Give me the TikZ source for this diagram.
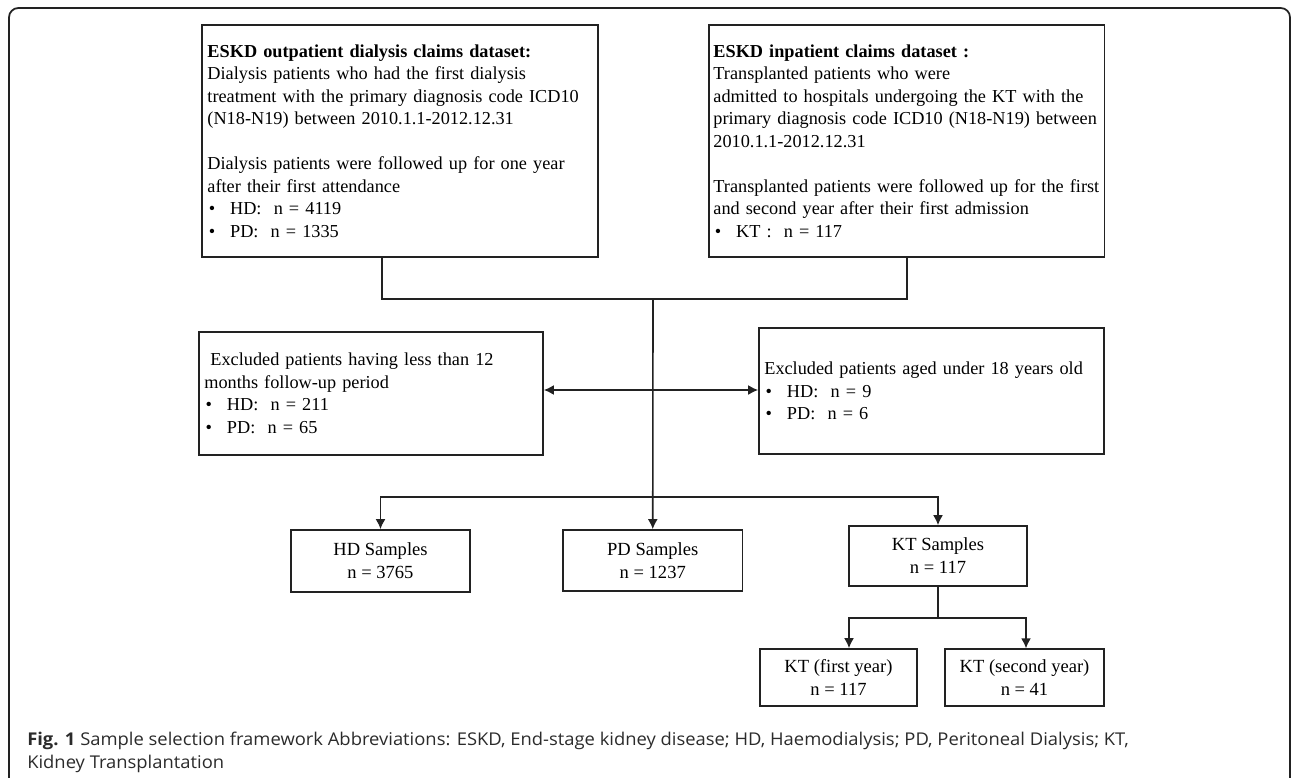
\documentclass[tikz,border=0pt]{standalone}
\usepackage{fontspec}
\setmainfont{Liberation Serif}
\newfontfamily\capfont{Open Sans}[FakeStretch=1.045]
\usetikzlibrary{arrows.meta,calc}
\definecolor{linec}{HTML}{222222}
\definecolor{capc}{HTML}{2B2B2B}
\tikzset{
  box/.style={draw=linec, line width=1.3pt, inner sep=0pt, font=\fontsize{13.7pt}{16.9pt}\selectfont},
  txtbox/.style={box, align=left, inner xsep=4.1pt},
  cbox/.style={box, align=center, font=\fontsize{13.9pt}{17.2pt}\selectfont},
  conn/.style={draw=linec, line width=1.2pt},
  arr/.style={conn, -{Latex[length=7.5pt,width=7.5pt]}},
  darr/.style={conn, {Latex[length=7.5pt,width=7.5pt]}-{Latex[length=7.5pt,width=7.5pt]}},
}
\newcommand{\bul}[1]{\makebox[17pt][l]{\hspace{1pt}•}#1}
\begin{document}
\begin{tikzpicture}[x=0.75pt,y=-0.75pt]
\useasboundingbox (0,0) rectangle (1292,778);
% outer frame
\draw[draw=linec, line width=1.3pt, rounded corners=7pt] (9,778) -- (9,8) -- (1290,8) -- (1290,778);

% top boxes
\node[txtbox, minimum width=297pt, minimum height=174pt, text width=288.8pt] (out) at (400,141)
 {\textbf{ESKD outpatient dialysis claims dataset:}\\
  Dialysis patients who had the first dialysis\\
  treatment with the primary diagnosis code ICD10\\
  (N18-N19) between 2010.1.1-2012.12.31\\[16.9pt]
  Dialysis patients were followed up for one year\\
  after their first attendance\\
  \bul{HD:\ \ n = 4119}\\
  \bul{PD:\ \ n = 1335}};

\node[txtbox, minimum width=296.6pt, minimum height=174pt, text width=290pt, inner xsep=3.3pt] (inp) at (906.75,141)
 {\textbf{ESKD inpatient claims dataset :}\\
  Transplanted patients who were\\
  admitted to hospitals undergoing the KT with the\\
  primary diagnosis code ICD10 (N18-N19) between\\
  2010.1.1-2012.12.31\\[16.9pt]
  \mbox{Transplanted patients were followed up for the first}\\
  and second year after their first admission\\
  \bul{KT :\ \ n = 117}};

% exclusion boxes
\node[txtbox, minimum width=258pt, minimum height=92.25pt, text width=250pt, inner xsep=4pt] (lexc) at (371,393.5)
 {\ Excluded patients having less than 12\\
  months follow-up period\\
  \bul{HD:\ \ n = 211}\\
  \bul{PD:\ \ n = 65}};

\node[txtbox, minimum width=258.75pt, minimum height=94.5pt, text width=250.75pt, inner xsep=4pt] (rexc) at (931.5,391)
 {Excluded patients aged under 18 years old\\
  \bul{HD:\ \ n = 9}\\
  \bul{PD:\ \ n = 6}};

% sample boxes
\node[cbox, minimum width=134.25pt, minimum height=46.5pt] (hd) at (380.5,561) {HD Samples\\n = 3765};
\node[cbox, minimum width=134.6pt, minimum height=45.75pt] (pd) at (652.75,560.5) {PD Samples\\n = 1237};
\node[cbox, minimum width=133.5pt, minimum height=45pt] (kt) at (938,556) {KT Samples\\n = 117};
\node[cbox, minimum width=117.75pt, minimum height=42.75pt] (y1) at (838.5,677.5) {KT (first year)\\n = 117};
\node[cbox, minimum width=119.25pt, minimum height=42.75pt] (y2) at (1024.5,677.7) {KT (second year)\\n = 41};

% junction coordinates
\coordinate (j1) at (382,299);
\coordinate (j2) at (906.75,299);
\coordinate (jc) at (653,299);
\coordinate (ay) at (0,390);
\coordinate (d) at (653,497);
\coordinate (k) at (938,618);
\coordinate (kl) at (849,618);
\coordinate (kr) at (1026,618);

% connectors
\draw[conn] (out.south -| j1) -- (j1) -- (j2) -- (inp.south);
\draw[arr] (jc) -- (pd.north);
\draw[darr] (lexc.east |- ay) -- (rexc.west |- ay);
\draw[arr] (d) -| (hd.north);
\draw[arr] (d) -| (kt.north);
\draw[conn] (kt.south) -- (k);
\draw[arr] (k) -- (kl) -- (y1.north -| kl);
\draw[arr] (k) -- (kr) -- (y2.north -| kr);

% caption
\node[anchor=west, inner sep=0pt, text=capc, font=\capfont\fontsize{13.2pt}{17.2pt}\selectfont, align=left] (cap) at (27,752)
 {\textbf{Fig. 1} Sample selection framework Abbreviations: ESKD, End-stage kidney disease; HD, Haemodialysis; PD, Peritoneal Dialysis; KT,\\
  Kidney Transplantation};
\end{tikzpicture}
\end{document}
